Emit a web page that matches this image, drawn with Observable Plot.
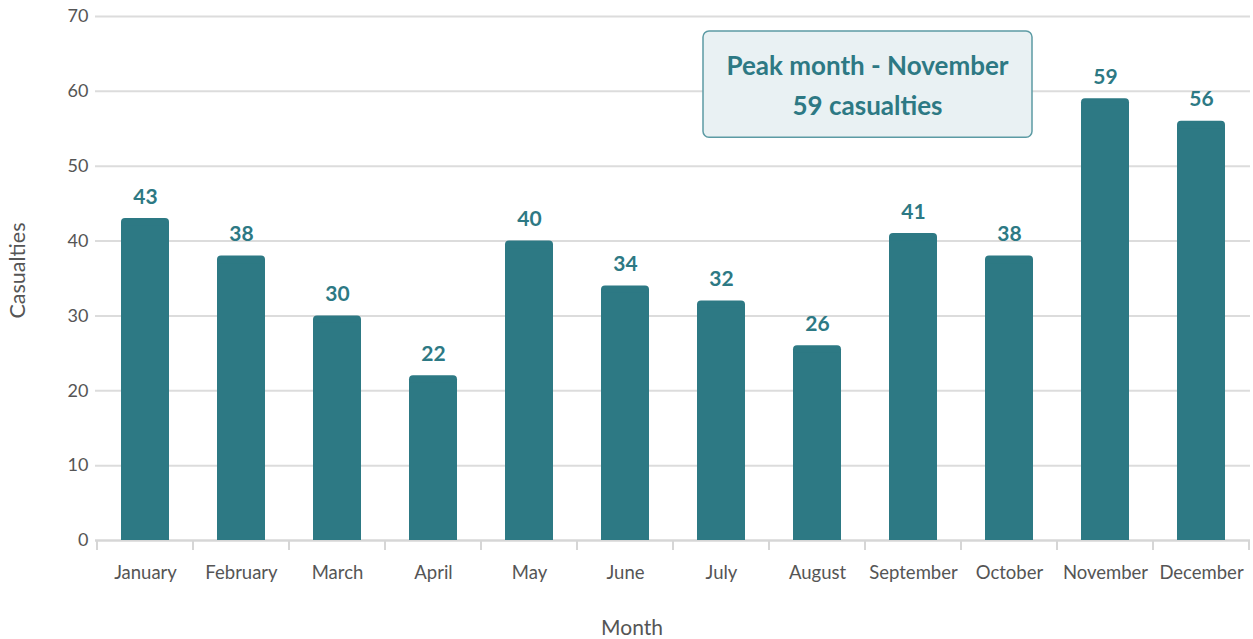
<!DOCTYPE html>
<html>
<head>
<meta charset="utf-8">
<script src="https://cdn.jsdelivr.net/npm/d3@7"></script>
<script src="https://cdn.jsdelivr.net/npm/@observablehq/plot@0.6"></script>
<style>
  html, body { margin: 0; padding: 0; background: #fff; }
  #chart { width: 1253px; height: 639px; }
</style>
</head>
<body>
<div id="chart"></div>
<script>
const months = ["January","February","March","April","May","June","July","August","September","October","November","December"];
const casualties = [43, 38, 30, 22, 40, 34, 32, 26, 41, 38, 59, 56];
const yTicks = [0, 10, 20, 30, 40, 50, 60, 70];
const annotationLines = ["Peak month - November", "59 casualties"];

const data = months.map((m, i) => ({month: m, value: casualties[i]}));
const teal = "#2d7984";
const font = "Lato, 'Source Sans Pro', sans-serif";

const W = 1253, H = 639;
const mLeft = 95, mRight = 3, mTop = 16, mBottom = 99;

function extras(index, scales, values, dims) {
  const x = scales.x, y = scales.y;
  const g = d3.create("svg:g");
  const step = x.step();
  const half = (step - x.bandwidth()) / 2;
  const x0 = x(months[0]) - half;
  for (let i = 0; i <= months.length; i++) {
    const px = x0 + i * step;
    g.append("line").attr("x1", px).attr("x2", px)
      .attr("y1", y(0)).attr("y2", y(0) + 10)
      .attr("stroke", "#d6d6d6").attr("stroke-width", 2);
  }
  const cx = x("September") - half + 2.5;
  const top = y(68), bottom = y(53.8);
  g.append("rect")
    .attr("x", cx - 164.5).attr("y", top)
    .attr("width", 329).attr("height", bottom - top)
    .attr("rx", 6).attr("ry", 6)
    .attr("fill", "#e9f1f3").attr("stroke", "#5c9ba4").attr("stroke-width", 1.5);
  annotationLines.forEach((t, i) => {
    g.append("text")
      .attr("x", cx).attr("y", top + 35 + i * 40)
      .attr("dy", "0.35em")
      .attr("text-anchor", "middle")
      .attr("fill", teal)
      .attr("font-weight", "bold")
      .attr("font-size", 26)
      .attr("font-family", font)
      .text(t);
  });
  return g.node();
}

const chart = Plot.plot({
  width: W,
  height: H,
  marginLeft: mLeft,
  marginRight: mRight,
  marginTop: mTop,
  marginBottom: mBottom,
  style: {fontFamily: font, background: "#fff"},
  x: {domain: months, paddingInner: 0.5, paddingOuter: 0.25, label: null},
  y: {domain: [0, 70], label: null},
  marks: [
    Plot.gridY(yTicks, {stroke: "#dcdcdc", strokeOpacity: 1, strokeWidth: 2}),
    Plot.ruleY([0], {stroke: "#d6d6d6", strokeWidth: 2}),
    Plot.barY(data, {x: "month", y: "value", fill: teal, rx: 4}),
    Plot.barY(data, {x: "month", y1: 0, y2: d => d.value - 1, fill: teal}),
    Plot.text(data, {x: "month", y: "value", text: d => String(d.value), fill: teal,
      fontWeight: "bold", fontSize: 21, lineAnchor: "bottom", dy: -15}),
    Plot.axisY(yTicks, {tickSize: 0, tickPadding: 7, fontSize: 18, color: "#555", label: null}),
    Plot.axisX({tickSize: 0, tickPadding: 25, fontSize: 18.5, color: "#555", label: null}),
    Plot.text(["Month"], {frameAnchor: "bottom", dy: 94, dx: -41, fontSize: 21, fill: "#555"}),
    Plot.text(["Casualties"], {frameAnchor: "left", textAnchor: "middle", rotate: -90, dx: -77, dy: -8, fontSize: 21.5, fill: "#555"}),
    extras
  ]
});
document.getElementById("chart").appendChild(chart);
</script>
</body>
</html>
